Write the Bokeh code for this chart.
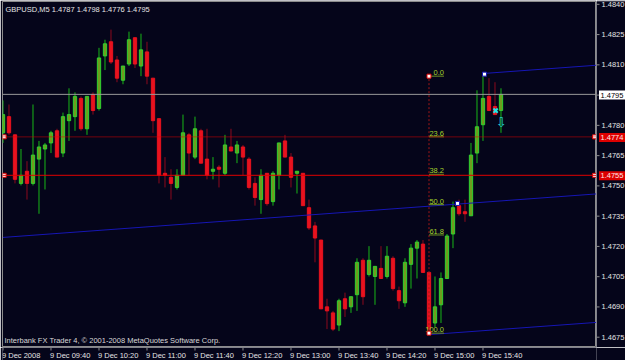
from bokeh.plotting import figure
from bokeh.models import ColumnDataSource, Range1d, Span, Label
from bokeh.layouts import column, row
from bokeh.core.properties import value
from bokeh.embed import file_html
from bokeh.resources import INLINE

# ---------------- data ----------------
symbol_title = "GBPUSD,M5 1.4787 1.4798 1.4776 1.4795"
footer_text = "Interbank FX Trader 4, \u00a9 2001-2008 MetaQuotes Software Corp."

bar_index = list(range(84))
open_ = [1.4776, 1.4784, 1.4775, 1.4751, 1.4757, 1.4751, 1.4763, 1.4768, 1.4771, 1.4777,
         1.4766, 1.4782, 1.4784, 1.4793, 1.4778, 1.4795, 1.4788, 1.4814, 1.4821, 1.4812,
         1.4802, 1.4810, 1.4823, 1.4809, 1.4816, 1.4803, 1.4783, 1.4756, 1.4754, 1.4749,
         1.4755, 1.4775, 1.4764, 1.4777, 1.4763, 1.4757, 1.4759, 1.4756, 1.4769, 1.4766,
         1.4769, 1.4763, 1.4751, 1.4743, 1.4756, 1.4742, 1.4755, 1.4772, 1.4764, 1.4756,
         1.4756, 1.4739, 1.4730, 1.4723, 1.4690, 1.4687, 1.4681, 1.4694, 1.4690, 1.4696,
         1.4713, 1.4706, 1.4705, 1.4709, 1.4705, 1.4714, 1.4698, 1.4692, 1.4711, 1.4719,
         1.4721, 1.4707, 1.4682, 1.4691, 1.4704, 1.4726, 1.4740, 1.4737, 1.4735, 1.4766,
         1.4780, 1.4794, 1.4789, 1.4787]
high = [1.4792, 1.4790, 1.4775, 1.4768, 1.4762, 1.4790, 1.4772, 1.4771, 1.4777, 1.4778,
        1.4786, 1.4798, 1.4796, 1.4794, 1.4794, 1.4796, 1.4818, 1.4822, 1.4827, 1.4814,
        1.4809, 1.4826, 1.4823, 1.4825, 1.4821, 1.4803, 1.4783, 1.4764, 1.4758, 1.4758,
        1.4785, 1.4776, 1.4784, 1.4778, 1.4778, 1.4764, 1.4760, 1.4775, 1.4778, 1.4772,
        1.4770, 1.4764, 1.4754, 1.4758, 1.4756, 1.4757, 1.4771, 1.4775, 1.4766, 1.4757,
        1.4756, 1.4743, 1.4732, 1.4723, 1.4694, 1.4688, 1.4694, 1.4697, 1.4695, 1.4714,
        1.4714, 1.4720, 1.4710, 1.4720, 1.4720, 1.4715, 1.4700, 1.4714, 1.4721, 1.4723,
        1.4723, 1.4707, 1.4705, 1.4707, 1.4726, 1.4742, 1.4743, 1.4743, 1.4771, 1.4797,
        1.4804, 1.4803, 1.4801, 1.4798]
low = [1.4771, 1.4775, 1.4751, 1.4750, 1.4743, 1.4750, 1.4736, 1.4748, 1.4766, 1.4764,
       1.4764, 1.4772, 1.4777, 1.4777, 1.4775, 1.4785, 1.4787, 1.4807, 1.4810, 1.4801,
       1.4800, 1.4809, 1.4808, 1.4804, 1.4800, 1.4776, 1.4751, 1.4749, 1.4743, 1.4748,
       1.4755, 1.4755, 1.4763, 1.4761, 1.4753, 1.4753, 1.4749, 1.4755, 1.4767, 1.4761,
       1.4755, 1.4748, 1.4740, 1.4736, 1.4740, 1.4740, 1.4748, 1.4764, 1.4749, 1.4746,
       1.4740, 1.4728, 1.4712, 1.4689, 1.4679, 1.4678, 1.4678, 1.4685, 1.4687, 1.4688,
       1.4691, 1.4705, 1.4691, 1.4704, 1.4704, 1.4698, 1.4689, 1.4690, 1.4699, 1.4704,
       1.4707, 1.4677, 1.4680, 1.4682, 1.4704, 1.4719, 1.4735, 1.4732, 1.4735, 1.4761,
       1.4772, 1.4787, 1.4785, 1.4776]
close = [1.4785, 1.4776, 1.4753, 1.4755, 1.4751, 1.4765, 1.4769, 1.4770, 1.4776, 1.4764,
         1.4784, 1.4785, 1.4794, 1.4778, 1.4794, 1.4787, 1.4813, 1.4820, 1.4811, 1.4803,
         1.4809, 1.4822, 1.4810, 1.4817, 1.4804, 1.4782, 1.4755, 1.4755, 1.4751, 1.4755,
         1.4776, 1.4766, 1.4778, 1.4761, 1.4755, 1.4758, 1.4758, 1.4770, 1.4767, 1.4770,
         1.4764, 1.4749, 1.4744, 1.4755, 1.4741, 1.4756, 1.4771, 1.4764, 1.4754, 1.4757,
         1.4740, 1.4729, 1.4724, 1.4689, 1.4688, 1.4679, 1.4693, 1.4689, 1.4695, 1.4712,
         1.4695, 1.4713, 1.4710, 1.4704, 1.4715, 1.4699, 1.4693, 1.4712, 1.4719, 1.4722,
         1.4707, 1.4679, 1.4690, 1.4704, 1.4725, 1.4739, 1.4736, 1.4736, 1.4765, 1.4779,
         1.4793, 1.4787, 1.4785, 1.4795]

time_ticks = [0, 8, 16, 24, 32, 40, 48, 56, 64, 72, 80]
time_labels = ["9 Dec 2008", "9 Dec 09:40", "9 Dec 10:20", "9 Dec 11:00", "9 Dec 11:40",
               "9 Dec 12:20", "9 Dec 13:00", "9 Dec 13:40", "9 Dec 14:20", "9 Dec 15:00",
               "9 Dec 15:40"]
price_ticks = [1.4675, 1.4690, 1.4705, 1.4720, 1.4735, 1.4750, 1.4765, 1.4780,
               1.4795, 1.4810, 1.4825, 1.4840]

bid_price = 1.4795
hline_dotted = 1.4774
hline_solid = 1.4755
hline_marker_x = [0.2, 98.6]

fib_bar = 71
fib_high = 1.4804
fib_low = 1.4677
fib_levels = [0.0, 23.6, 38.2, 50.0, 61.8, 100.0]

chan_mid_x = [0.0, 98.9]
chan_mid_y = [1.47243, 1.47458]
chan_up_x = [80.0, 98.9]
chan_up_y = [1.48053, 1.48094]
chan_low_x = [71.2, 98.9]
chan_low_y = [1.46763, 1.46823]
chan_marker_x = [75.75, 80.25]
chan_marker_y = [1.47411, 1.48050]

trade_x_bar = [82.1]
trade_x_price = [1.4787]
arrow_bar = [83.05]
arrow_price = [1.4781]

# ---------------- style ----------------
BG = "#05051a"
FRAME = "#8c8c8c"
TXT = "#e4e4e4"
BULL_LINE = "#2fd22f"
BULL_FILL = "#6f9c1e"
BULL_WICK = "#18b818"
BEAR_FILL = "#e8121e"
BEAR_WICK = "#8c0a1e"
RED = "#e00000"
BLUE = "#1616b4"
FIB_TXT = "#a4d22c"
FIB_LINE = "#6f9422"
FONT = "Liberation Sans"
FS = "7.5px"

X_RANGE = (-0.0833, 98.9167)
Y_RANGE = (1.46699, 1.48409)

up = [c >= o for o, c in zip(open_, close)]
src = ColumnDataSource(dict(
    x=bar_index,
    h=high, l=low,
    top=[max(o, c) for o, c in zip(open_, close)],
    bottom=[min(o, c) for o, c in zip(open_, close)],
    fill=[BULL_FILL if u else BEAR_FILL for u in up],
    line=[BULL_LINE if u else BEAR_FILL for u in up],
    wick=[BULL_WICK if u else BEAR_WICK for u in up],
))


def base_fig(**kw):
    f = figure(output_backend="svg", toolbar_location=None,
               x_axis_location=None, y_axis_location=None,
               background_fill_color=BG, border_fill_color=BG, **kw)
    f.grid.grid_line_color = None
    return f


# ---------------- main chart ----------------
p = base_fig(width=596, height=347,
             x_range=Range1d(*X_RANGE), y_range=Range1d(*Y_RANGE),
             min_border_left=2, min_border_right=0, min_border_top=1, min_border_bottom=0,
             outline_line_color=FRAME, outline_line_width=1)

# candles
p.segment(x0="x", y0="l", x1="x", y1="h", line_color="wick", line_width=1, source=src)
p.vbar(x="x", width=0.55, top="top", bottom="bottom", fill_color="fill",
       line_color="line", line_width=1, source=src)

# horizontal lines
p.add_layout(Span(location=bid_price, dimension="width", line_color="#9a9a9a", line_width=1))
p.add_layout(Span(location=hline_dotted, dimension="width", line_color=RED, line_width=1,
                  line_dash="1 1"))
p.add_layout(Span(location=hline_solid, dimension="width", line_color=RED, line_width=1))
p.scatter(x=hline_marker_x * 2, y=[hline_dotted] * 2 + [hline_solid] * 2, marker="square",
          size=4, fill_color="white", line_color=RED, line_width=1)

# channel
p.line(x=chan_mid_x, y=chan_mid_y, line_color=BLUE, line_width=1)
p.line(x=chan_up_x, y=chan_up_y, line_color=BLUE, line_width=1)
p.line(x=chan_low_x, y=chan_low_y, line_color=BLUE, line_width=1)
p.scatter(x=chan_marker_x, y=chan_marker_y, marker="square", size=4,
          fill_color="white", line_color=BLUE, line_width=1)

# fibonacci
fib_prices = [fib_high - lv / 100.0 * (fib_high - fib_low) for lv in fib_levels]
p.segment(x0=[fib_bar], y0=[fib_low], x1=[fib_bar], y1=[fib_high],
          line_color="#a01818", line_width=1, line_dash="2 2")
p.segment(x0=[fib_bar] * len(fib_levels), y0=fib_prices,
          x1=[fib_bar + 2.5] * len(fib_levels), y1=fib_prices,
          line_color=FIB_LINE, line_width=1)
p.text(x=[fib_bar + 2.5] * len(fib_levels), y=fib_prices,
       text=["%.1f" % lv for lv in fib_levels], text_align="right", text_baseline="bottom",
       y_offset=-1, text_font=value(FONT), text_font_size=FS, text_color=FIB_TXT)
p.scatter(x=[fib_bar, fib_bar], y=[fib_high, fib_low], marker="square", size=4,
          fill_color="white", line_color=RED, line_width=1)

# trade markers
p.scatter(x=trade_x_bar, y=trade_x_price, marker="x", size=6, line_color="#22e6e6",
          line_width=2)
p.text(x=arrow_bar, y=arrow_price, text=["\u21e9"], text_align="center",
       text_baseline="middle", text_font=value("DejaVu Sans"), text_font_size="13px",
       text_color="#22d0d0")

# texts inside the chart
p.add_layout(Label(x=3, y=343, x_units="screen", y_units="screen", text=symbol_title,
                   text_baseline="top", text_font=FONT, text_font_size=FS,
                   text_color=TXT))
p.add_layout(Label(x=2, y=3, x_units="screen", y_units="screen", text=footer_text,
                   text_baseline="bottom", text_font=FONT, text_font_size=FS,
                   text_color="#d8d8d8"))

# ---------------- price scale (right) ----------------
rs = base_fig(width=29, height=347, x_range=Range1d(0, 29),
              y_range=Range1d(Y_RANGE[0], Y_RANGE[1] + (Y_RANGE[1] - Y_RANGE[0]) / 346.0),
              min_border_left=0, min_border_right=0, min_border_top=0, min_border_bottom=0,
              outline_line_color=None)
rs.segment(x0=[0] * len(price_ticks), y0=price_ticks, x1=[3] * len(price_ticks),
           y1=price_ticks, line_color=FRAME, line_width=1)
rs.text(x=[5] * len(price_ticks), y=price_ticks, text=["%.4f" % t for t in price_ticks],
        text_align="left", text_baseline="middle", text_font=value(FONT),
        text_font_size=FS, text_color=TXT)
box_prices = [bid_price, hline_dotted, hline_solid]
rs.rect(x=[15.5] * 3, y=box_prices, width=26, height=9, height_units="screen",
        fill_color=["white", "#dd0000", "#dd0000"], line_color=None)
rs.text(x=[4] * 3, y=box_prices, text=["%.4f" % b for b in box_prices],
        text_align="left", text_baseline="middle", text_font=value(FONT),
        text_font_size=FS, text_color=["black", "#ffe6e6", "#ffe6e6"])

# ---------------- time scale (bottom) ----------------
bs = base_fig(width=625, height=13, x_range=p.x_range, y_range=Range1d(0, 13),
              min_border_left=2, min_border_right=29, min_border_top=0, min_border_bottom=0,
              outline_line_color=None)
bs.segment(x0=time_ticks, y0=[13] * len(time_ticks), x1=time_ticks,
           y1=[10] * len(time_ticks), line_color=FRAME, line_width=1)
bs.text(x=time_ticks, y=[9.5] * len(time_ticks), text=time_labels, text_align="left",
        text_baseline="top", x_offset=-1, text_font=value(FONT), text_font_size=FS,
        text_color=TXT)

layout = column(row(p, rs, spacing=0), bs, spacing=0)
open("out.html", "w").write(file_html(layout, INLINE))
